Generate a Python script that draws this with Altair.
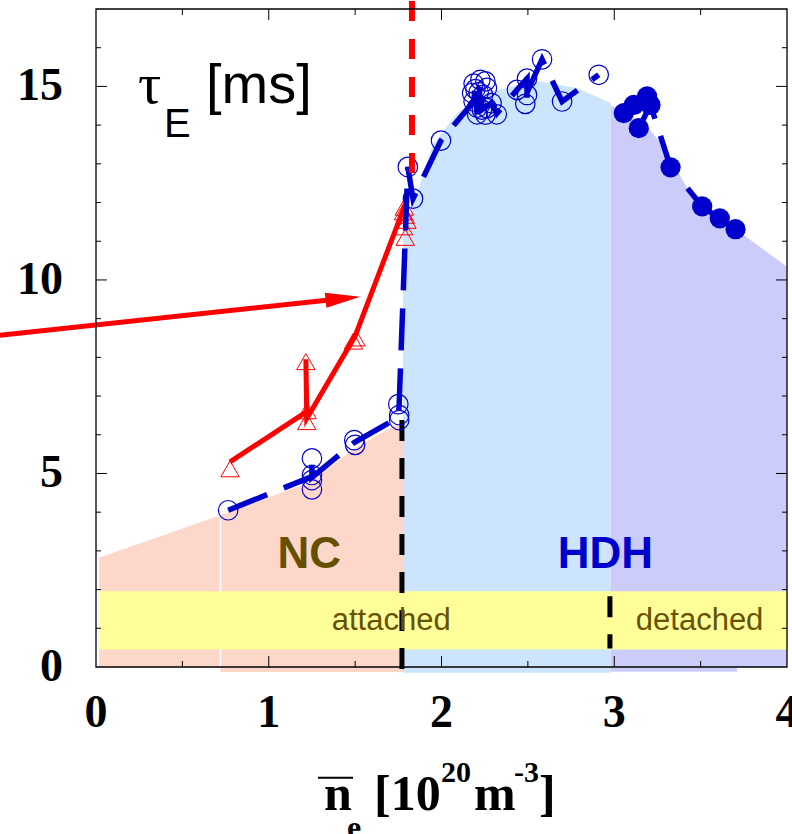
import altair as alt
import pandas as pd

# ---------------- data ----------------
# open circles (attached / NC + HDH)
open_x = [0.765, 1.25, 1.25, 1.25, 1.25, 1.495, 1.50, 1.75, 1.755, 1.755, 1.805, 1.835, 1.997,
          2.186, 2.225, 2.254, 2.196, 2.177, 2.215, 2.24, 2.263, 2.186, 2.206, 2.234, 2.263,
          2.29, 2.32, 2.254, 2.206,
          2.437, 2.495, 2.495, 2.485, 2.582, 2.698, 2.91]
open_y = [4.05, 4.83, 5.39, 4.96, 4.59, 5.86, 5.74, 6.79, 6.51, 6.38, 12.92, 12.1, 13.6,
          15.07, 15.17, 15.13, 14.93, 14.83, 14.85, 14.78, 14.96, 14.61, 14.45, 14.4, 14.44,
          14.57, 14.28, 14.27, 14.28,
          14.91, 15.2, 14.78, 14.55, 15.7, 14.61, 15.3]
# dashed blue path through the open circles
bl_x = [0.765, 1.25, 1.25, 1.25, 1.495, 1.75, 1.755, 1.805, 1.835, 1.997, 2.186, 2.196, 2.206,
        2.225, 2.234, 2.29, 2.32, 2.437, 2.495, 2.495, 2.485, 2.582, 2.698, 2.91]
bl_y = [4.05, 4.92, 5.39, 4.9, 5.8, 6.45, 6.8, 12.92, 12.1, 13.6, 14.61, 15.0, 14.28,
        15.1, 14.4, 14.57, 14.3, 14.91, 15.2, 14.55, 14.74, 15.7, 14.61, 15.3]
# filled circles (detached)
fill_x = [3.055, 3.113, 3.19, 3.142, 3.21, 3.326, 3.509, 3.611, 3.702]
fill_y = [14.31, 14.52, 14.74, 13.92, 14.52, 12.91, 11.9, 11.59, 11.31]
# red triangles
tri_x = [0.776, 1.22, 1.222, 1.215, 1.49, 1.505, 1.79, 1.78, 1.80, 1.79, 1.78, 1.785]
tri_y = [5.12, 6.34, 6.62, 7.89, 8.42, 8.5, 11.1, 11.37, 11.54, 11.67, 11.76, 11.88]
# red solid path
rl_x = [0.776, 1.22, 1.215, 1.22, 1.50, 1.79]
rl_y = [5.3, 6.6, 7.95, 6.42, 8.55, 11.95]
# red arrow (start, head centre)
arrow_x = [-0.556, 1.43]
arrow_y = [8.57, 9.52]
# shaded regions
nc1_x = [0.017, 0.72]
nc1_top = [2.82, 3.92]
nc2_x = [0.72, 1.24, 1.51, 1.785]
nc2_top = [3.92, 4.78, 5.69, 6.37]
hdh_x = [1.777, 1.95, 2.09, 2.28, 2.57, 2.785, 2.978]
hdh_top = [11.1, 13.5, 14.31, 14.87, 15.13, 14.96, 14.57]
det_x = [2.978, 3.19, 3.287, 3.46, 3.71, 4.0]
det_top = [14.52, 13.96, 13.45, 12.07, 11.29, 10.34]
det_under_x = [2.978, 3.71]
# annotation texts
region_labels = ["NC", "HDH"]
region_x = [1.234, 2.949]
region_y = [2.545, 2.545]
band_labels = ["attached", "detached"]
band_x = [1.709, 3.494]
band_y = [0.948, 0.948]
title_parts = ["n", "e", "[10", "20", "m", "-3", "]"]
x_labels = [0, 1, 2, 3, 4]
y_labels = [0, 5, 10, 15]
x_ticks_major = [1, 2, 3]
x_ticks_minor = [0.5, 1.5, 2.5, 3.5]
y_ticks_major = [5, 10, 15]
y_ticks_minor = [1, 2, 3, 4, 6, 7, 8, 9, 11, 12, 13, 14, 16]

W, H = 691, 658
BLUE = "#0000cc"
RED = "#ff0000"
LAV = "#ccccfb"

xs = alt.Scale(domain=[0, 4], nice=False, zero=False)
ys = alt.Scale(domain=[0, 17], nice=False, zero=False)


def X(f, **kw):
    return alt.X(f, type="quantitative", scale=xs, axis=None, **kw)


def Y(f, **kw):
    return alt.Y(f, type="quantitative", scale=ys, axis=None, **kw)


def df(**cols):
    return pd.DataFrame(cols)


def area(xv, top, bottom, color):
    return (alt.Chart(df(x=xv, y=top, b=[bottom] * len(xv)))
            .mark_area(color=color, opacity=1)
            .encode(x=X("x"), y=Y("y"), y2="b"))


layers = []

# regions
layers.append(area(nc1_x, nc1_top, 0.0, "#fdd8ca"))
layers.append(area(nc2_x, nc2_top, -0.13, "#fdd8ca"))
layers.append(area(hdh_x, hdh_top, -0.15, "#cce5fc"))
layers.append(area(det_x, det_top, 0.0, LAV))
layers.append(alt.Chart(df(x=[det_under_x[0]], x2=[det_under_x[1]], y=[0.02], y2=[-0.12]))
              .mark_rect(color=LAV, opacity=1)
              .encode(x=X("x"), x2="x2", y=Y("y"), y2="y2"))
# white seam
layers.append(alt.Chart(df(x=[0.72], y=[0.0], y2=[3.92])).mark_rule(color="white", strokeWidth=1.5)
              .encode(x=X("x"), y=Y("y"), y2="y2"))
# yellow band
layers.append(alt.Chart(df(x=[0.017], x2=[4.007], y=[0.45], y2=[1.96])).mark_rect(color="#ffff99", opacity=1)
              .encode(x=X("x"), x2="x2", y=Y("y"), y2="y2"))
# black dashed separators
layers.append(alt.Chart(df(x=[1.771, 2.975], y=[6.38, 1.83], y2=[-0.15, 0.48]))
              .mark_rule(color="black", strokeWidth=5, strokeDash=[21, 17])
              .encode(x=X("x"), y=Y("y"), y2="y2"))
# region texts
layers.append(alt.Chart(df(t=region_labels, x=region_x, y=region_y, c=["#665000", BLUE]))
              .mark_text(font="Liberation Sans", fontWeight="bold", fontSize=44, align="center",
                         baseline="alphabetic")
              .encode(x=X("x"), y=Y("y"), text="t:N", color=alt.Color("c:N", scale=None)))
layers.append(alt.Chart(df(t=band_labels, x=band_x, y=band_y))
              .mark_text(font="Liberation Sans", fontSize=31, align="center", baseline="alphabetic",
                         color="#665200")
              .encode(x=X("x"), y=Y("y"), text="t:N"))
# red solid line + arrow
layers.append(alt.Chart(df(x=rl_x, y=rl_y, i=list(range(len(rl_x)))))
              .mark_line(color=RED, strokeWidth=5)
              .encode(x=X("x"), y=Y("y"), order=alt.Order("i:Q")))
layers.append(alt.Chart(df(x=arrow_x, y=arrow_y, i=[0, 1]))
              .mark_line(color=RED, strokeWidth=5)
              .encode(x=X("x"), y=Y("y"), order=alt.Order("i:Q")))
layers.append(alt.Chart(df(x=[arrow_x[1]], y=[arrow_y[1]]))
              .mark_point(shape="M1,0L-1,-0.43L-1,0.43Z", size=1225, filled=True, color=RED,
                          opacity=1, angle=354)
              .encode(x=X("x"), y=Y("y")))
# red triangles
layers.append(alt.Chart(df(x=tri_x, y=tri_y))
              .mark_point(shape="triangle-up", size=340, filled=False, color=RED, strokeWidth=1,
                          opacity=1)
              .encode(x=X("x"), y=Y("y")))
# blue dashed lines
layers.append(alt.Chart(df(x=bl_x, y=bl_y, i=list(range(len(bl_x)))))
              .mark_line(color=BLUE, strokeWidth=5.5, strokeDash=[42, 18])
              .encode(x=X("x"), y=Y("y"), order=alt.Order("i:Q")))
layers.append(alt.Chart(df(x=fill_x, y=fill_y, i=list(range(len(fill_x)))))
              .mark_line(color=BLUE, strokeWidth=5.5, strokeDash=[42, 18])
              .encode(x=X("x"), y=Y("y"), order=alt.Order("i:Q")))
# circles
layers.append(alt.Chart(df(x=open_x, y=open_y))
              .mark_point(shape="circle", size=380, filled=False, color=BLUE, strokeWidth=1.2,
                          opacity=1)
              .encode(x=X("x"), y=Y("y")))
layers.append(alt.Chart(df(x=fill_x, y=fill_y))
              .mark_circle(size=410, color=BLUE, opacity=1)
              .encode(x=X("x"), y=Y("y")))
# red dashed vertical line
layers.append(alt.Chart(df(x=[1.829], y=[12.76], y2=[17.25]))
              .mark_rule(color=RED, strokeWidth=6, strokeDash=[20, 18])
              .encode(x=X("x"), y=Y("y"), y2="y2"))

# frame
layers.append(alt.Chart(df(x=[0], x2=[4], y=[0], y2=[17]))
              .mark_rect(fillOpacity=0, stroke="black", strokeWidth=1.3)
              .encode(x=X("x"), x2="x2", y=Y("y"), y2="y2"))

# tick labels
layers.append(alt.Chart(df(v=x_labels, t=[str(v) for v in x_labels]))
              .mark_text(font="Liberation Serif", fontWeight="bold", fontSize=46, align="center",
                         baseline="top", color="black")
              .encode(x=X("v"), y=alt.value(H + 24), text="t:N"))
layers.append(alt.Chart(df(v=y_labels, t=[str(v) for v in y_labels]))
              .mark_text(font="Liberation Serif", fontWeight="bold", fontSize=46, align="right",
                         baseline="middle", color="black")
              .encode(y=Y("v"), x=alt.value(-33), text="t:N"))


# inward ticks
def yticks(vals, length):
    d = df(v=vals)
    return [alt.Chart(d).mark_rule(color="black", strokeWidth=1)
            .encode(y=Y("v"), x=alt.value(0), x2=alt.value(length)),
            alt.Chart(d).mark_rule(color="black", strokeWidth=1)
            .encode(y=Y("v"), x=alt.value(W), x2=alt.value(W - length))]


def xticks(vals, length):
    d = df(v=vals)
    return [alt.Chart(d).mark_rule(color="black", strokeWidth=1)
            .encode(x=X("v"), y=alt.value(H), y2=alt.value(H - length)),
            alt.Chart(d).mark_rule(color="black", strokeWidth=1)
            .encode(x=X("v"), y=alt.value(0), y2=alt.value(length))]


layers += yticks(y_ticks_major, 11) + yticks(y_ticks_minor, 5)
layers += xticks(x_ticks_major, 11) + xticks(x_ticks_minor, 6)

# tau_E [ms] label
layers.append(alt.Chart(df(t=["τ"], x=[0.243], y=[14.58]))
              .mark_text(font="Liberation Serif", fontSize=58, align="left", baseline="alphabetic",
                         color="black")
              .encode(x=X("x"), y=Y("y"), text="t:N"))
layers.append(alt.Chart(df(t=["E"], x=[0.394], y=[13.70]))
              .mark_text(font="Liberation Sans", fontSize=40, align="left", baseline="alphabetic",
                         color="black")
              .encode(x=X("x"), y=Y("y"), text="t:N"))
layers.append(alt.Chart(df(t=["[ms]"], x=[0.637], y=[14.58]))
              .mark_text(font="Liberation Sans", fontSize=56, align="left", baseline="alphabetic",
                         color="black")
              .encode(x=X("x"), y=Y("y"), text="t:N"))

# x-axis title pieces (pixel layout relative to the plot origin)
title_pos = [(228, 801, 50), (251, 829, 32), (278, 801, 50), (345, 773, 30),
             (378, 801, 50), (418, 773, 30), (443, 801, 50)]
for t, (px, py, fs) in zip(title_parts, title_pos):
    layers.append(alt.Chart(df(t=[t]))
                  .mark_text(font="Liberation Serif", fontWeight="bold", fontSize=fs, align="left",
                             baseline="alphabetic", color="black")
                  .encode(text="t:N", x=alt.value(px), y=alt.value(py)))
layers.append(alt.Chart(df(t=["bar"]))
              .mark_rule(color="black", strokeWidth=2)
              .encode(x=alt.value(222), x2=alt.value(257), y=alt.value(768.7)))

chart = (alt.layer(*layers)
         .properties(width=W, height=H, autosize=alt.AutoSizeParams(type="none"),
                     padding={"left": 96, "top": 9, "right": 5, "bottom": 167},
                     background="white")
         .configure_view(stroke=None))

chart.save("out.html", embed_options={"renderer": "svg", "actions": False})
